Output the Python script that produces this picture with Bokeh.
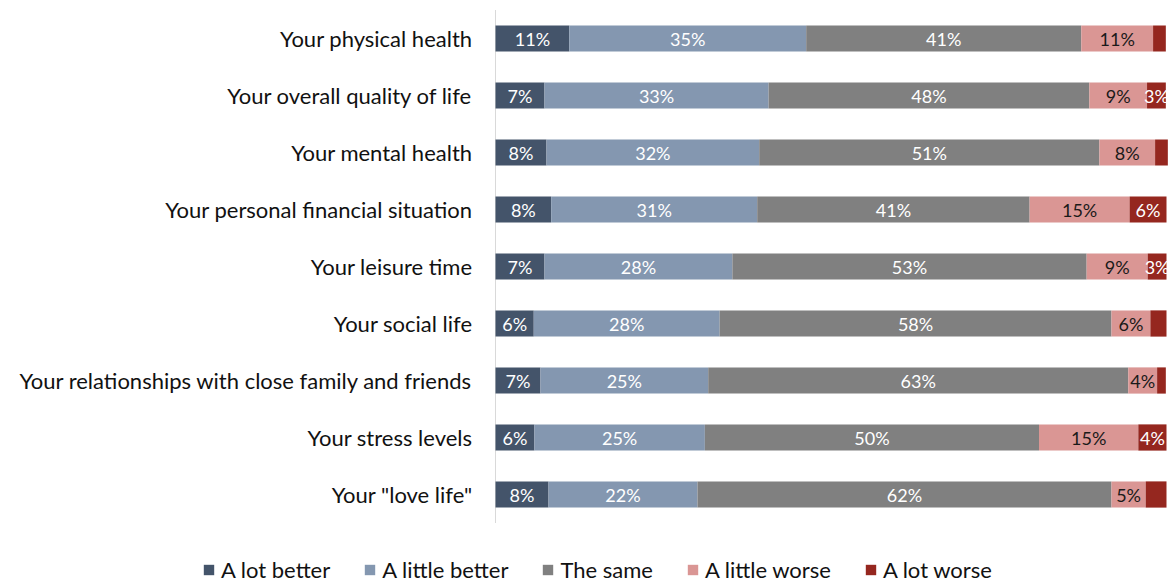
from bokeh.plotting import figure
from bokeh.models import ColumnDataSource, Range1d, Legend, LegendItem
from bokeh.core.properties import value
from bokeh.embed import file_html
from bokeh.resources import INLINE

categories = [
    "Your physical health",
    "Your overall quality of life",
    "Your mental health",
    "Your personal financial situation",
    "Your leisure time",
    "Your social life",
    "Your relationships with close family and friends",
    "Your stress levels",
    "Your \"love life\"",
]

series_names = ["A lot better", "A little better", "The same", "A little worse", "A lot worse"]

a_lot_better = [11.0, 7.3, 7.6, 8.3, 7.3, 5.7, 6.7, 5.8, 7.9]
a_little_better = [35.3, 33.4, 31.7, 30.7, 28.0, 27.7, 25.0, 25.4, 22.2]
the_same = [41.0, 47.8, 50.7, 40.6, 52.8, 58.4, 62.6, 49.8, 61.7]
a_little_worse = [10.7, 8.6, 8.3, 14.9, 9.1, 5.8, 4.3, 14.8, 5.1]
a_lot_worse = [1.9, 2.8, 1.9, 5.5, 2.8, 2.4, 1.3, 4.2, 3.1]

labels_lot_better = ["11%", "7%", "8%", "8%", "7%", "6%", "7%", "6%", "8%"]
labels_little_better = ["35%", "33%", "32%", "31%", "28%", "28%", "25%", "25%", "22%"]
labels_same = ["41%", "48%", "51%", "41%", "53%", "58%", "63%", "50%", "62%"]
labels_little_worse = ["11%", "9%", "8%", "15%", "9%", "6%", "4%", "15%", "5%"]
labels_lot_worse = ["", "3%", "", "6%", "3%", "", "", "4%", ""]

colors = ["#44546A", "#8497B0", "#808080", "#DA9694", "#95271F"]
text_colors = ["white", "white", "white", "#1a1a1a", "white"]

series_values = [a_lot_better, a_little_better, the_same, a_little_worse, a_lot_worse]
series_labels = [labels_lot_better, labels_little_better, labels_same, labels_little_worse, labels_lot_worse]

FONT = "Lato"

# ---- layout (pixels) ----
W, H = 1172, 583
plot_left, plot_right = 495, 1166      # bar area in pixels
plot_top, plot_bottom = 9.5, 522.5     # category band area in pixels

n = len(categories)
y_pos = list(range(n - 1, -1, -1))     # first category on top

px_per_unit_x = (plot_right - plot_left) / 100.0
x_start = -plot_left / px_per_unit_x
x_end = 100 + (W - plot_right) / px_per_unit_x
row_px = (plot_bottom - plot_top) / n
y_end = (n - 0.5) + plot_top / row_px
y_start = -0.5 - (H - plot_bottom) / row_px

p = figure(
    width=W, height=H,
    x_range=Range1d(x_start, x_end), y_range=Range1d(y_start, y_end),
    output_backend="svg", toolbar_location=None,
    min_border=0,
)
p.outline_line_color = None
p.grid.visible = False
p.axis.visible = False

# category axis line and labels
p.segment(x0=[0], y0=[min(y_pos) - 0.5], x1=[0], y1=[max(y_pos) + 0.5],
          line_color="#D9D9D9", line_width=1)
p.text(x=[0] * n, y=y_pos, text=categories, x_offset=-23, text_align="right",
       text_baseline="middle", text_color="#111111", text_font=value(FONT),
       text_font_size="22px")

cum = [0.0] * n
renderers = []
for vals, labs, col, tcol in zip(series_values, series_labels, colors, text_colors):
    left = cum[:]
    right = [l + v for l, v in zip(left, vals)]
    mid = [(l + r) / 2 for l, r in zip(left, right)]
    src = ColumnDataSource(dict(y=y_pos, left=left, right=right, mid=mid, label=labs))
    r = p.hbar(y="y", left="left", right="right", height=0.46, source=src,
               fill_color=col, line_color=None)
    renderers.append(r)
    p.text(x="mid", y="y", text="label", source=src, text_align="center",
           text_baseline="middle", text_color=tcol, text_font=value(FONT),
           text_font_size="18px")
    cum = right

legend = Legend(
    items=[LegendItem(label=s, renderers=[r]) for s, r in zip(series_names, renderers)],
    orientation="horizontal",
    location=(202, 0),
    glyph_width=13, glyph_height=13, label_standoff=6, spacing=33,
    padding=0, margin=0, border_line_color=None, background_fill_alpha=0,
    label_text_font=FONT, label_text_font_size="22px", label_height=16,
    label_text_color="#111111",
)
p.add_layout(legend, "center")

open("out.html", "w").write(file_html(p, INLINE))
